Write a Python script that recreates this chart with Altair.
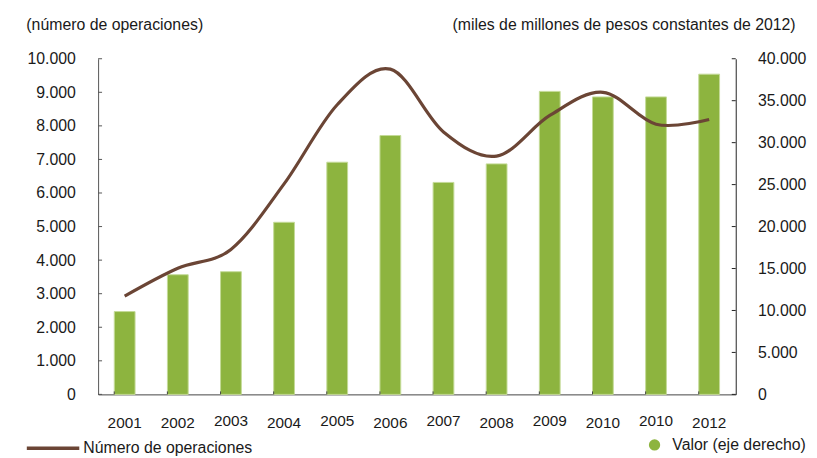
import altair as alt
import pandas as pd

# ---- data ----
years = ["2001", "2002", "2003", "2004", "2005", "2006", "2007", "2008",
         "2009", "2010", "2010 ", "2012"]
operaciones = [2930, 3760, 4320, 6270, 8630, 9690, 7820, 7100, 8310, 9000, 8050, 8190]
valor = [9870, 14260, 14620, 20510, 27670, 30850, 25260, 27470, 36110, 35450, 35450, 38160]
left_ticks = [0, 1000, 2000, 3000, 4000, 5000, 6000, 7000, 8000, 9000, 10000]
right_ticks = [0, 5000, 10000, 15000, 20000, 25000, 30000, 35000, 40000]
line_name = "Número de operaciones"
bar_name = "Valor (eje derecho)"
left_title = "(número de operaciones)"
right_title = "(miles de millones de pesos constantes de 2012)"
raised_labels = ["2003", "2005", "2007", "2009", "2010 "]

df = pd.DataFrame({"anio": years, "ops": operaciones, "valor": valor,
                   "s_line": line_name, "s_bar": bar_name})
lt = pd.DataFrame({"v": left_ticks})
rt = pd.DataFrame({"v": right_ticks})

W, H = 644, 339
FONT = "Liberation Sans"
TXT = "#1a1a1a"
fmt = "replace(format(datum.value, ','), ',', '.')"

xscale = alt.Scale(domain=years, paddingInner=0.609, paddingOuter=0.3045)
test = "indexof(" + str(raised_labels).replace('"', "'") + ", datum.value) >= 0"
xaxis = alt.Axis(title=None, labelExpr="trim(datum.label)", ticks=False,
                 domainColor="#444", labelFontSize=15.5, labelFont=FONT,
                 labelColor=TXT, labelAngle=0,
                 labelPadding=alt.condition(test, alt.value(19), alt.value(21.5)))

lscale = alt.Scale(domain=[0, 10000], nice=False)
rscale = alt.Scale(domain=[0, 40000], nice=False)

laxis = alt.Axis(orient="left", values=left_ticks, labelExpr=fmt, ticks=False,
                 domainColor="#555", labelPadding=23, grid=False,
                 labelFontSize=16, labelFont=FONT, labelColor=TXT,
                 title=left_title, titleAngle=0, titleAlign="left",
                 titleBaseline="middle", titleX=-73, titleY=-35,
                 titleFontWeight="normal", titleFontSize=16, titleFont=FONT,
                 titleColor=TXT)
raxis = alt.Axis(orient="right", values=right_ticks, labelExpr=fmt, ticks=False,
                 domainColor="#222", labelPadding=22, grid=False,
                 labelFontSize=16, labelFont=FONT, labelColor=TXT,
                 title=right_title, titleAngle=0, titleAlign="right",
                 titleBaseline="middle", titleX=60, titleY=-35,
                 titleFontWeight="normal", titleFontSize=16, titleFont=FONT,
                 titleColor=TXT)

bars = alt.Chart(df).mark_bar(stroke="#c4db98", strokeWidth=1).encode(
    x=alt.X("anio:N", scale=xscale, axis=xaxis, sort=years),
    y=alt.Y("valor:Q", scale=rscale, axis=raxis),
    color=alt.Color("s_bar:N",
                    scale=alt.Scale(domain=[bar_name], range=["#8db43f"]),
                    legend=alt.Legend(orient="none", legendX=554, legendY=382,
                                      title=None, padding=0, symbolType="circle",
                                      symbolSize=130, symbolStrokeWidth=0,
                                      labelOffset=10, labelFontSize=16,
                                      labelFont=FONT, labelColor=TXT,
                                      labelLimit=400)),
)
rticks = alt.Chart(rt).mark_rule(color="#222").encode(
    y=alt.Y("v:Q", scale=rscale, axis=raxis),
    x=alt.value(W - 4), x2=alt.value(W),
)
right = alt.layer(bars, rticks)

xticks = alt.Chart(df).mark_rule(color="#444").encode(
    x=alt.X("anio:N", scale=xscale, axis=xaxis, sort=years, bandPosition=0),
    y=alt.value(H - 3), y2=alt.value(H),
)

line = alt.Chart(df).mark_line(strokeWidth=3.2, interpolate="cardinal").encode(
    x=alt.X("anio:N", scale=xscale, axis=xaxis, sort=years),
    y=alt.Y("ops:Q", scale=lscale, axis=laxis),
    color=alt.Color("s_line:N",
                    scale=alt.Scale(domain=[line_name], range=["#6b4535"]),
                    legend=alt.Legend(orient="none", legendX=-74, legendY=365,
                                      title=None, padding=0, symbolType="stroke",
                                      symbolSize=2809, symbolStrokeWidth=3.5,
                                      labelOffset=2, labelFontSize=16,
                                      labelFont=FONT, labelColor=TXT,
                                      labelLimit=400)),
)
lticks = alt.Chart(lt).mark_rule(color="#555").encode(
    y=alt.Y("v:Q", scale=lscale, axis=laxis),
    x=alt.value(0), x2=alt.value(4),
)
left = alt.layer(lticks, line)

chart = alt.layer(right, xticks, left).resolve_scale(
    y="independent", color="independent"
).resolve_legend(color="independent").properties(
    width=W, height=H,
    autosize=alt.AutoSizeParams(type="none"),
    padding={"left": 91, "top": 49, "right": 74, "bottom": 62},
).configure_view(strokeWidth=0)

chart.save("out.html", embed_options={"renderer": "svg", "actions": False})
